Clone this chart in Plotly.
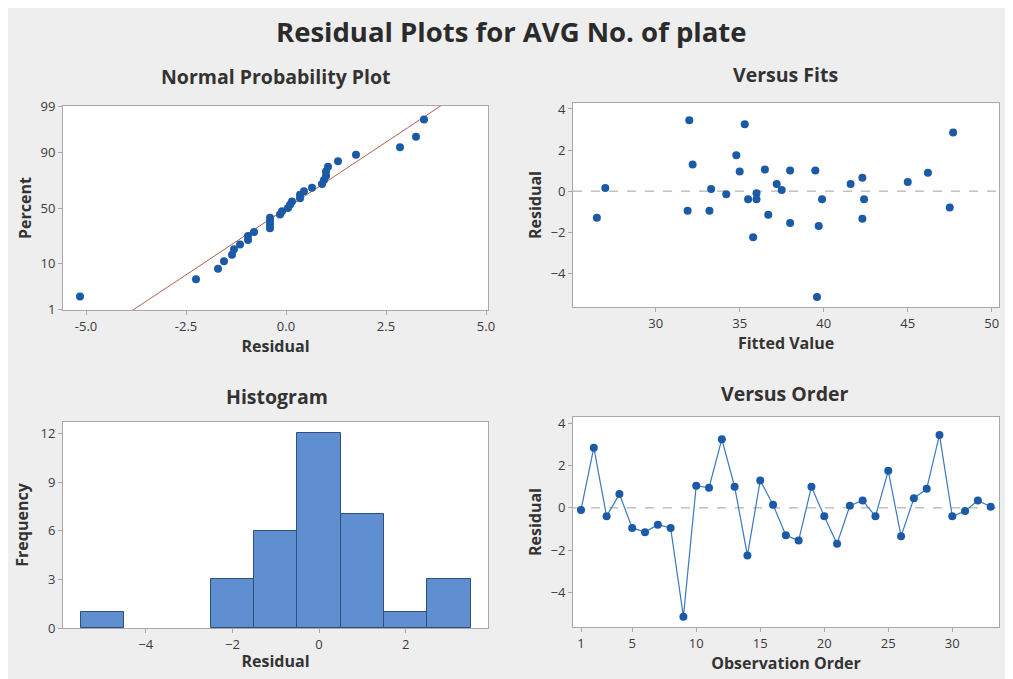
import plotly.graph_objects as go
from statistics import NormalDist, mean, stdev

# ---- data ----
observation_order = list(range(1, 34))
residuals = [-0.1, 2.85, -0.4, 0.65, -0.95, -1.15, -0.8, -0.95, -5.15, 1.05,
             0.95, 3.25, 1.0, -2.25, 1.3, 0.15, -1.3, -1.55, 1.0, -0.4,
             -1.7, 0.1, 0.35, -0.4, 1.75, -1.35, 0.45, 0.9, 3.45, -0.4,
             -0.15, 0.35, 0.05]
fitted_values = [36.0, 47.7, 35.5, 42.3, 31.9, 36.7, 47.5, 33.2, 39.6, 36.5,
                 35.0, 35.3, 39.5, 35.8, 32.2, 27.0, 26.5, 38.0, 38.0, 39.9,
                 39.7, 33.3, 41.6, 36.0, 34.8, 42.3, 45.0, 46.2, 32.0, 42.4,
                 34.2, 37.2, 37.5]
percent_ticks = [1, 10, 50, 90, 99]
order_ticks = [1, 5, 10, 15, 20, 25, 30]

W, H = 1013, 679
OFF = 8  # page body margin in the browser
nd = NormalDist()

def dx(px):
    return (px - OFF) / W

def dy(py):
    return 1 - (py - OFF) / H

FONT = "Open Sans"
TICKC = "#3a3a3a"
TITLEC = "#333333"
MARK = "#1a5aa6"
LINEC = "#3a78c0"

n = len(residuals)
sorted_res = sorted(residuals)
zq = [nd.inv_cdf((i + 1 - 0.3) / (n + 0.4)) for i in range(n)]
mu, sd = mean(residuals), stdev(residuals)
z_line = [-3.5, 3.5]
x_line = [mu + sd * z for z in z_line]
tick_z = [nd.inv_cdf(p / 100) for p in percent_ticks]

fig = go.Figure()

fig.add_trace(go.Scatter(x=x_line, y=z_line, mode="lines",
                         line=dict(color="#b0604e", width=1),
                         xaxis="x", yaxis="y", showlegend=False))
fig.add_trace(go.Scatter(x=sorted_res, y=zq, mode="markers",
                         marker=dict(color=MARK, size=8),
                         xaxis="x", yaxis="y", showlegend=False))

fig.add_trace(go.Scatter(x=fitted_values, y=residuals, mode="markers",
                         marker=dict(color=MARK, size=8),
                         xaxis="x2", yaxis="y2", showlegend=False))

fig.add_trace(go.Histogram(x=residuals, xbins=dict(start=-5.5, end=3.5, size=1),
                           marker=dict(color="#5f8fd0",
                                       line=dict(color="#2e4f7a", width=1)),
                           xaxis="x3", yaxis="y3", showlegend=False))

fig.add_trace(go.Scatter(x=observation_order, y=residuals, mode="lines+markers",
                         line=dict(color=LINEC, width=1.2),
                         marker=dict(color=MARK, size=8),
                         xaxis="x4", yaxis="y4", showlegend=False))

ax_common = dict(showline=True, mirror=True, linecolor="#a8a8a8", linewidth=1,
                 showgrid=False, zeroline=False, ticks="outside", ticklen=4,
                 tickcolor="#a8a8a8", automargin=False,
                 tickfont=dict(family=FONT, size=13, color=TICKC),
                 title_font=dict(family=FONT, size=16, color=TITLEC))

def ax(**kw):
    d = dict(ax_common)
    d.update(kw)
    return d

fig.update_layout(
    width=W, height=H,
    margin=dict(l=0, r=0, t=0, b=0),
    paper_bgcolor="#eeeeee",
    plot_bgcolor="#ffffff",
    bargap=0,
    font=dict(family=FONT),
    xaxis=ax(domain=[dx(63), dx(488)], anchor="y", range=[-5.575, 5.05],
             tickvals=[-5.0, -2.5, 0.0, 2.5, 5.0],
             ticktext=["-5.0", "-2.5", "0.0", "2.5", "5.0"],
             title=dict(text="<b>Residual</b>", standoff=5)),
    yaxis=ax(domain=[dy(310), dy(106)], anchor="x",
             range=[tick_z[0] - 0.02, tick_z[-1] + 0.02],
             tickvals=tick_z, ticktext=[str(p) for p in percent_ticks],
             title=dict(text="<b>Percent</b>", standoff=4)),
    xaxis2=ax(domain=[dx(573), dx(999)], anchor="y2", range=[25.08, 50.43],
              tickvals=[30, 35, 40, 45, 50],
              title=dict(text="<b>Fitted Value</b>", standoff=5)),
    yaxis2=ax(domain=[dy(307), dy(103)], anchor="x2", range=[-5.64, 4.29],
              tickvals=[-4, -2, 0, 2, 4],
              title=dict(text="<b>Residual</b>", standoff=4)),
    xaxis3=ax(domain=[dx(63), dx(488)], anchor="y3", range=[-5.91, 3.90],
              tickvals=[-4, -2, 0, 2],
              title=dict(text="<b>Residual</b>", standoff=4)),
    yaxis3=ax(domain=[dy(628), dy(422)], anchor="x3", range=[0, 12.7],
              tickvals=[0, 3, 6, 9, 12],
              title=dict(text="<b>Frequency</b>", standoff=7)),
    xaxis4=ax(domain=[dx(573), dx(999)], anchor="y4", range=[0.375, 33.65],
              tickvals=order_ticks,
              title=dict(text="<b>Observation Order</b>", standoff=4)),
    yaxis4=ax(domain=[dy(627), dy(417)], anchor="x4", range=[-5.64, 4.3],
              tickvals=[-4, -2, 0, 2, 4],
              title=dict(text="<b>Residual</b>", standoff=4)),
)

for xr, yr in [("x2", "y2"), ("x4", "y4")]:
    fig.add_shape(type="line", xref=f"{xr} domain", yref=yr, x0=0, x1=1, y0=0, y1=0,
                  line=dict(color="#a0a0a0", width=1, dash="dash"), layer="below")

fig.add_annotation(text="<b>Residual Plots for AVG No. of plate</b>", x=dx(511), y=dy(32),
                   xref="paper", yref="paper", showarrow=False,
                   xanchor="center", yanchor="middle",
                   font=dict(family=FONT, size=27.5, color="#2b2b2b"))
subtitles = [("Normal Probability Plot", 276, 77), ("Versus Fits", 785, 75),
             ("Histogram", 277, 396), ("Versus Order", 785, 393)]
for t, px, py in subtitles:
    fig.add_annotation(text=f"<b>{t}</b>", x=dx(px), y=dy(py), xref="paper", yref="paper",
                       showarrow=False, xanchor="center", yanchor="middle",
                       font=dict(family=FONT, size=19.5, color="#333333"))

fig.write_html("out.html")
